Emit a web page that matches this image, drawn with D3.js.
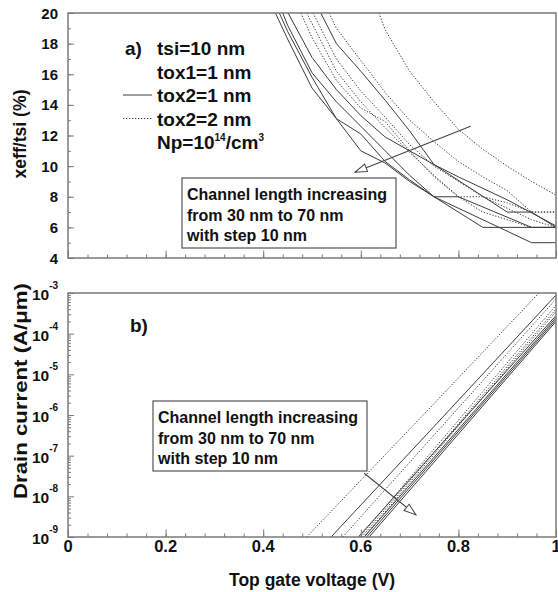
<!DOCTYPE html>
<html>
<head>
<meta charset="utf-8">
<script src="https://cdn.jsdelivr.net/npm/d3@7/dist/d3.min.js"></script>
<style>
  body { margin: 0; background: #fff; }
  svg { font-family: "Liberation Sans", Arial, sans-serif; font-weight: bold; }
</style>
</head>
<body>
<div id="chart"></div>
<script>
// channel lengths (nm) - every series array below follows this order
const channelLengths = [30, 40, 50, 60, 70];

// panel a) xeff/tsi (%) vs top gate voltage (V), tox2 = 1 nm (solid)
const xeffTox1 = [
  [[0.518, 20], [0.55, 18], [0.60, 16.2], [0.65, 14.3], [0.70, 12.3], [0.75, 10.1], [0.80, 9.3], [0.90, 7.8], [1.0, 6.1]],
  [[0.451, 20], [0.50, 17.1], [0.55, 15], [0.60, 13.3], [0.65, 11.9], [0.70, 11], [0.75, 10.1], [0.90, 7], [0.95, 7], [1.0, 6]],
  [[0.440, 20], [0.45, 19.2], [0.50, 16.1], [0.55, 14.2], [0.60, 12.6], [0.65, 11], [0.70, 9.4], [0.75, 8], [0.80, 8], [0.95, 6], [1.0, 6]],
  [[0.433, 20], [0.45, 18.8], [0.50, 15.8], [0.55, 13.1], [0.60, 11], [0.65, 10.2], [0.70, 9], [0.75, 8], [0.85, 6], [1.0, 6]],
  [[0.425, 20], [0.45, 18.3], [0.50, 15.1], [0.55, 13.1], [0.60, 12.1], [0.65, 10.3], [0.70, 9.1], [0.75, 8], [0.95, 5], [1.0, 5]]
];
// tox2 = 2 nm (dotted)
const xeffTox2 = [
  [[0.637, 20], [0.65, 18.9], [0.70, 16.2], [0.75, 14.2], [0.80, 12.4], [0.85, 11.1], [0.90, 10], [0.95, 9], [1.0, 8.1]],
  [[0.535, 20], [0.55, 19], [0.60, 16.9], [0.65, 14.8], [0.70, 13], [0.75, 11.6], [0.80, 10.3], [0.85, 9.3], [0.90, 8.4], [0.95, 7], [1.0, 7]],
  [[0.502, 20], [0.55, 17], [0.60, 14.9], [0.65, 13.2], [0.70, 11.4], [0.75, 10], [0.80, 9], [0.85, 8], [0.90, 7.6], [0.95, 7], [1.0, 7]],
  [[0.489, 20], [0.55, 16.2], [0.60, 14.2], [0.65, 12.5], [0.70, 10.9], [0.75, 9.4], [0.80, 8], [0.85, 8], [0.95, 6.5], [1.0, 6]],
  [[0.477, 20], [0.50, 18.4], [0.55, 15.6], [0.60, 13.8], [0.65, 12.9], [0.70, 11], [0.75, 9.3], [0.80, 8], [0.85, 7], [0.95, 6], [1.0, 6]]
];

// panel b) drain current (A/um) vs top gate voltage (V)
const currentTox1 = [
  [[0.539, 1e-9], [0.75, 5.2e-7], [1.0, 8.9e-4]],
  [[0.595, 1e-9], [0.75, 1.2e-7], [1.0, 2.8e-4]],
  [[0.607, 1e-9], [0.75, 9.1e-8], [1.0, 2.5e-4]],
  [[0.612, 1e-9], [0.75, 8.0e-8], [1.0, 2.24e-4]],
  [[0.617, 1e-9], [0.75, 6.9e-8], [1.0, 2.0e-4]]
];
const currentTox2 = [
  [[0.489, 1e-9], [0.75, 1.9e-6], [0.965, 1e-3]],
  [[0.563, 1e-9], [0.75, 3.2e-7], [1.0, 7.1e-4]],
  [[0.598, 1e-9], [0.75, 1.45e-7], [1.0, 5.0e-4]],
  [[0.602, 1e-9], [0.75, 1.2e-7], [1.0, 4.0e-4]],
  [[0.606, 1e-9], [0.75, 1.07e-7], [1.0, 3.5e-4]]
];

const xTickLabels = ['0', '0.2', '0.4', '0.6', '0.8', '1'];
const xTickValues = [0, 0.2, 0.4, 0.6, 0.8, 1];
const xeffTickValues = [4, 6, 8, 10, 12, 14, 16, 18, 20];
const currentExponents = [-9, -8, -7, -6, -5, -4, -3];

const width = 558, height = 592;
const frameColor = '#7a7a7a', lineColor = '#3c3c3c', textColor = '#111';

const svg = d3.select('#chart').append('svg')
  .attr('width', width).attr('height', height);

const x = d3.scaleLinear().domain([0, 1]).range([68, 556]);
const yA = d3.scaleLinear().domain([4, 20]).range([258, 13]);
const yB = d3.scaleLog().domain([1e-9, 1e-3]).range([537, 293]);

const defs = svg.append('defs');
[['clipA', yA], ['clipB', yB]].forEach(([id, y]) => {
  defs.append('clipPath').attr('id', id).append('rect')
    .attr('x', x(0)).attr('y', y.range()[1])
    .attr('width', x(1) - x(0)).attr('height', y.range()[0] - y.range()[1]);
});
defs.append('marker').attr('id', 'head')
  .attr('viewBox', '0 0 14 10').attr('refX', 13).attr('refY', 5)
  .attr('markerWidth', 14).attr('markerHeight', 10)
  .attr('markerUnits', 'userSpaceOnUse').attr('orient', 'auto')
  .append('path').attr('d', 'M1,1 L13,5 L1,9 Z')
  .attr('fill', '#fff').attr('stroke', '#444').attr('stroke-width', 1);

function styleAxis(g) {
  g.select('.domain').remove();
  g.selectAll('.tick line').attr('stroke', frameColor).attr('stroke-width', 1);
}

function drawTicks(y, minorY, bottomY) {
  // bottom ticks (inside)
  svg.append('g').attr('transform', `translate(0,${bottomY})`)
    .call(d3.axisBottom(x).tickValues(d3.range(0, 1.001, 0.04)).tickSize(-3.5).tickFormat(''))
    .call(styleAxis);
  svg.append('g').attr('transform', `translate(0,${bottomY})`)
    .call(d3.axisBottom(x).tickValues(xTickValues).tickSize(-7.5).tickFormat(''))
    .call(styleAxis);
  svg.append('g').attr('transform', `translate(${x(0)},0)`)
    .call(d3.axisLeft(y).tickValues(minorY).tickSize(-3).tickFormat(''))
    .call(styleAxis);
}

// ---------- panel a ----------
const lineA = d3.line().x(d => x(d[0])).y(d => yA(d[1]));
const gA = svg.append('g').attr('clip-path', 'url(#clipA)');
gA.selectAll('.s').data(xeffTox1).enter().append('path')
  .attr('d', lineA).attr('fill', 'none').attr('stroke', lineColor).attr('stroke-width', 1);
gA.selectAll('.d').data(xeffTox2).enter().append('path')
  .attr('d', lineA).attr('fill', 'none').attr('stroke', lineColor).attr('stroke-width', 1)
  .attr('stroke-dasharray', '1.3,1.7');

drawTicks(yA, d3.range(5, 20, 1), yA(4));
svg.append('g').attr('transform', `translate(${x(0)},0)`)
  .call(d3.axisLeft(yA).tickValues(xeffTickValues).tickSize(-6).tickFormat(''))
  .call(styleAxis);

svg.append('rect').attr('x', x(0)).attr('y', yA(20))
  .attr('width', x(1) - x(0)).attr('height', yA(4) - yA(20))
  .attr('fill', 'none').attr('stroke', frameColor).attr('stroke-width', 1.5);

svg.append('g').selectAll('text').data(xeffTickValues).enter().append('text')
  .attr('x', 58).attr('y', d => yA(d) + 5.5).attr('text-anchor', 'end')
  .attr('font-size', 15).attr('fill', textColor).text(d => d);

svg.append('text').attr('transform', `translate(26,${134}) rotate(-90)`)
  .attr('text-anchor', 'middle').attr('font-size', 17.5).attr('fill', textColor)
  .attr('textLength', 89).attr('lengthAdjust', 'spacingAndGlyphs')
  .text('xeff/tsi (%)');

// legend / parameters
const legendX = 157, legendRows = [48, 71.5, 95, 118.5, 142];
const legText = svg.append('g').attr('font-size', 19).attr('fill', textColor);
legText.append('text').attr('x', 125).attr('y', legendRows[0] + 7).text('a)');
['tsi=10 nm', 'tox1=1 nm', 'tox2=1 nm', 'tox2=2 nm'].forEach((t, i) => {
  legText.append('text').attr('x', legendX).attr('y', legendRows[i] + 7).text(t);
});
const np = legText.append('text').attr('x', legendX).attr('y', legendRows[4] + 7);
np.append('tspan').text('Np=10');
np.append('tspan').attr('font-size', 10).attr('dy', -8).text('14');
np.append('tspan').attr('dy', 8).text('/cm');
np.append('tspan').attr('font-size', 10).attr('dy', -8).text('3');
svg.append('line').attr('x1', 123).attr('x2', 152).attr('y1', legendRows[2]).attr('y2', legendRows[2])
  .attr('stroke', lineColor).attr('stroke-width', 1);
svg.append('line').attr('x1', 123).attr('x2', 152).attr('y1', legendRows[3]).attr('y2', legendRows[3])
  .attr('stroke', lineColor).attr('stroke-width', 1).attr('stroke-dasharray', '1.3,1.7');

// annotation boxes
const boxLines = ['Channel length increasing', 'from 30 nm to 70 nm', 'with step 10 nm'];
function noteBox(bx, by, bw, bh) {
  svg.append('rect').attr('x', bx).attr('y', by).attr('width', bw).attr('height', bh)
    .attr('fill', '#fff').attr('stroke', '#555').attr('stroke-width', 1.2);
  boxLines.forEach((t, i) => {
    svg.append('text').attr('x', bx + 5).attr('y', by + 22 + i * 20.5)
      .attr('font-size', 16).attr('fill', textColor).text(t);
  });
}
function arrow(x1, y1, x2, y2) {
  svg.append('line').attr('x1', x1).attr('y1', y1).attr('x2', x2).attr('y2', y2)
    .attr('stroke', '#444').attr('stroke-width', 1.1).attr('marker-end', 'url(#head)');
}
arrow(x(0.825), yA(12.6), x(0.588), yA(9.6));
noteBox(182, 178, 214, 70);

// ---------- panel b ----------
const lineB = d3.line().x(d => x(d[0])).y(d => yB(d[1]));
const gB = svg.append('g').attr('clip-path', 'url(#clipB)');
gB.selectAll('.s').data(currentTox1).enter().append('path')
  .attr('d', lineB).attr('fill', 'none').attr('stroke', lineColor).attr('stroke-width', 1);
gB.selectAll('.d').data(currentTox2).enter().append('path')
  .attr('d', lineB).attr('fill', 'none').attr('stroke', lineColor).attr('stroke-width', 1)
  .attr('stroke-dasharray', '1.3,1.7');

const minorLog = [];
currentExponents.slice(0, -1).forEach(e => {
  for (let k = 2; k <= 9; k++) minorLog.push(k * Math.pow(10, e));
});
drawTicks(yB, minorLog, yB(1e-9));
svg.append('g').attr('transform', `translate(${x(0)},0)`)
  .call(d3.axisLeft(yB).tickValues(currentExponents.map(e => Math.pow(10, e))).tickSize(-6).tickFormat(''))
  .call(styleAxis);

svg.append('rect').attr('x', x(0)).attr('y', yB(1e-3))
  .attr('width', x(1) - x(0)).attr('height', yB(1e-9) - yB(1e-3))
  .attr('fill', 'none').attr('stroke', frameColor).attr('stroke-width', 1.5);

currentExponents.forEach(e => {
  const t = svg.append('text').attr('x', 32).attr('y', yB(Math.pow(10, e)) + 7)
    .attr('font-size', 15.5).attr('fill', textColor);
  t.append('tspan').text('10');
  t.append('tspan').attr('font-size', 10).attr('dy', -11).text(e);
});

svg.append('g').selectAll('text').data(xTickValues).enter().append('text')
  .attr('x', d => x(d)).attr('y', 552).attr('text-anchor', 'middle')
  .attr('font-size', 16.5).attr('fill', textColor)
  .text((d, i) => xTickLabels[i]);

svg.append('text').attr('x', 312).attr('y', 586).attr('text-anchor', 'middle')
  .attr('font-size', 17.5).attr('fill', textColor).text('Top gate voltage (V)');

svg.append('text').attr('transform', `translate(27,${391}) rotate(-90)`)
  .attr('text-anchor', 'middle').attr('font-size', 18).attr('fill', textColor)
  .attr('textLength', 216).attr('lengthAdjust', 'spacingAndGlyphs')
  .text('Drain current (A/\u03bcm)');

svg.append('text').attr('x', 130).attr('y', 332)
  .attr('font-size', 19).attr('fill', textColor).text('b)');

noteBox(153, 401, 214, 70);
arrow(x(0.607), yB(3.7e-8), x(0.713), yB(3.5e-9));
</script>
</body>
</html>
